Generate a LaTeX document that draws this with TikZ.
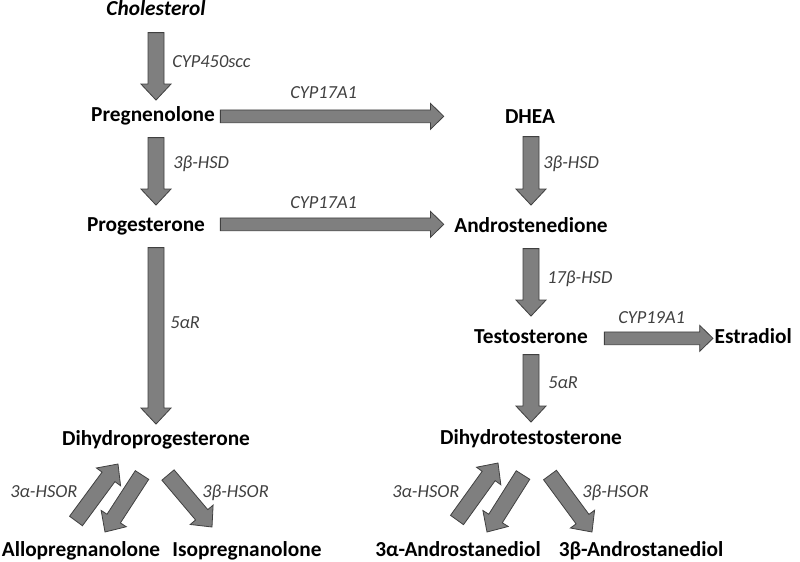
\documentclass[tikz,border=0pt]{standalone}
\usepackage{fontspec}
\setmainfont{Carlito}
\usepackage{tikz}
\usetikzlibrary{calc}

\definecolor{ArrowFill}{HTML}{7F7F7F}
\definecolor{ArrowLine}{HTML}{404040}
\definecolor{EnzymeGray}{HTML}{404040}

% block arrow from #2 to #3, size style in #1
\newcommand{\blockarrow}[3][Vertical]{%
  \begin{scope}[#1]
  \coordinate (ba-s) at (#2);
  \coordinate (ba-e) at (#3);
  \coordinate (ba-m) at ($(ba-e)!\balen!(ba-s)$);
  \draw [BlockArrow] ($(ba-s)!\bashaft!90:(ba-e)$) -- ($(ba-m)!\bashaft!90:(ba-e)$)
    -- ($(ba-m)!\bahead!90:(ba-e)$) -- (ba-e) -- ($(ba-m)!\bahead!-90:(ba-e)$)
    -- ($(ba-m)!\bashaft!-90:(ba-e)$) -- ($(ba-s)!\bashaft!-90:(ba-e)$) -- cycle;
  \end{scope}}

\begin{document}
\begin{tikzpicture}[x=0.75pt, y=-0.75pt,
  Compound/.style={anchor=base, font=\fontsize{16}{19}\selectfont\bfseries, inner sep=1pt, text height=10pt, text depth=3pt},
  Enzyme/.style={anchor=base west, font=\fontsize{13.8}{16}\selectfont\itshape, text=EnzymeGray, inner sep=0pt},
  BlockArrow/.style={fill=ArrowFill, draw=ArrowLine, line width=0.6pt, line join=miter},
  Vertical/.code={\def\bashaft{6pt}\def\bahead{11.25pt}\def\balen{12pt}},
  Horizontal/.code={\def\bashaft{4.8pt}\def\bahead{9.75pt}\def\balen{10pt}}]

\useasboundingbox (0,0) rectangle (800,561);

\node [Compound, font=\fontsize{16}{19}\selectfont\bfseries\itshape] (chol) at (156,15) {Cholesterol};
\node [Compound] (preg) at (153,121) {Pregnenolone};
\node [Compound] (prog) at (146,231) {Progesterone};
\node [Compound] (dhp) at (156,445) {Dihydroprogesterone};
\node [Compound] (allo) at (81,556) {Allopregnanolone};
\node [Compound] (iso) at (247,556) {Isopregnanolone};

\node [Compound] (dhea) at (530,123) {DHEA};
\node [Compound] (andro) at (531,232) {Androstenedione};
\node [Compound] (testo) at (531,343) {Testosterone};
\node [Compound, anchor=base west] (estr) at (713,343) {Estradiol};
\node [Compound] (dht) at (531,444) {Dihydrotestosterone};
\node [Compound] (adiolA) at (458,556) {3α-Androstanediol};
\node [Compound] (adiolB) at (641,556) {3β-Androstanediol};

\node [Enzyme] (e-scc) at (172,67) {CYP450scc};
\node [Enzyme] (e-17a) at (290,98) {CYP17A1};
\node [Enzyme] (e-17b) at (290,208) {CYP17A1};
\node [Enzyme] (e-hsd1) at (173,168) {3β-HSD};
\node [Enzyme] (e-hsd2) at (543,168) {3β-HSD};
\node [Enzyme] (e-hsd17) at (547,283) {17β-HSD};
\node [Enzyme] (e-19a1) at (618,323) {CYP19A1};
\node [Enzyme] (e-5ar1) at (170,328) {5αR};
\node [Enzyme] (e-5ar2) at (548,388) {5αR};
\node [Enzyme] (e-3a1) at (10,497) {3α-HSOR};
\node [Enzyme] (e-3b1) at (202,497) {3β-HSOR};
\node [Enzyme] (e-3a2) at (392,497) {3α-HSOR};
\node [Enzyme] (e-3b2) at (582,497) {3β-HSOR};

\blockarrow{$(chol.south)+(0,12)$}{$(chol.south |- preg.north)+(0,-6)$}
\blockarrow{$(chol |- preg.south)+(0,11)$}{$(chol |- prog.north)+(0,-11)$}
\blockarrow{$(chol |- prog.south)+(0,11)$}{$(dhp.north)+(0,-6)$}
\blockarrow{$(andro |- dhea.south)+(0,8)$}{$(andro.north)+(0,-12)$}
\blockarrow{$(andro.south)+(0,11)$}{$(testo.north)+(0,-12)$}
\blockarrow{$(testo.south)+(0,6)$}{$(dht.north)+(0,-7)$}

\blockarrow[Horizontal]{$(preg.east)+(4,0)$}{$(preg.east -| andro.west)+(-9,0)$}
\blockarrow[Horizontal]{$(prog.east -| preg.east)+(4,-2)$}{$(prog.east -| andro.west)+(-9,-2)$}
\blockarrow[Horizontal]{$(testo.east)+(15,0)$}{$(testo.east -| estr.west)$}

\blockarrow{$(allo.base)+(-5,-35)$}{$(dhp.base)+(-38,19)$}
\blockarrow{$(dhp.base)+(-14,30)$}{$(allo.base)+(24,-24)$}
\blockarrow{$(dhp.base)+(12,30)$}{$(iso.base)+(-35,-29)$}
\blockarrow{$(adiolA.base)+(-1,-36)$}{$(dht.base)+(-33,19)$}
\blockarrow{$(dht.base)+(-8,31)$}{$(adiolA.base)+(29,-24)$}
\blockarrow{$(dht.base)+(19,31)$}{$(adiolB.base)+(-49,-24)$}
\end{tikzpicture}
\end{document}
